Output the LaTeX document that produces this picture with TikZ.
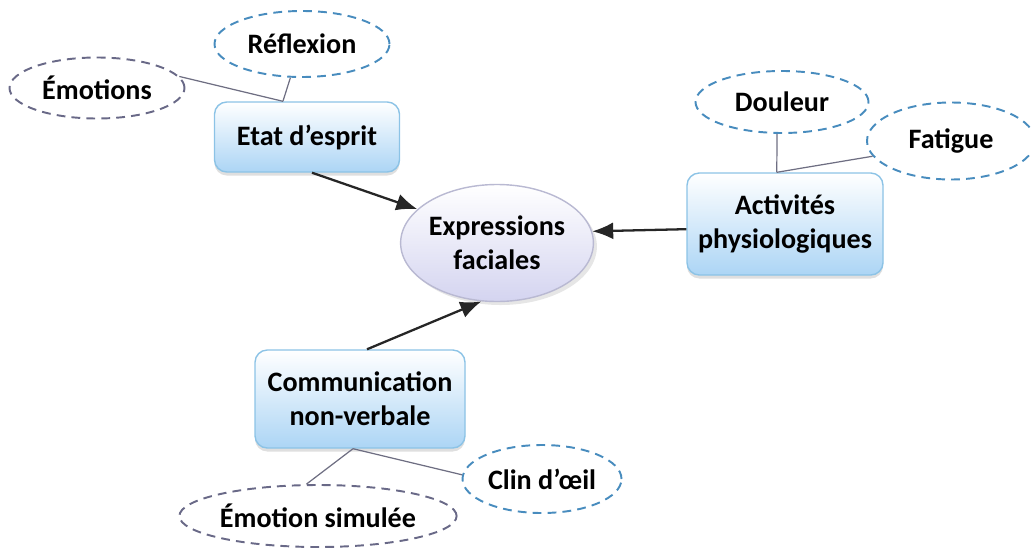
\documentclass[tikz,border=0pt]{standalone}
\usepackage{fontspec}
\setmainfont{Carlito}
\usetikzlibrary{shapes.geometric,arrows.meta,shadows}
\definecolor{bleuTrait}{RGB}{72,140,190}
\definecolor{grisTrait}{RGB}{105,105,135}
\definecolor{bleuBord}{RGB}{140,195,230}
\definecolor{bleuFond}{RGB}{172,213,245}
\definecolor{lavande}{RGB}{212,212,240}
\definecolor{lavBord}{RGB}{185,185,210}
\definecolor{lienGris}{RGB}{110,110,130}
\tikzset{
  caja/.style={rectangle, draw=bleuBord, line width=0.8pt, rounded corners=7pt,
               top color=white, bottom color=bleuFond, align=center,
               font=\fontsize{16}{19.5}\selectfont\bfseries, inner sep=2pt,
               drop shadow={shadow xshift=0pt, shadow yshift=-2pt, opacity=0.25}},
  centre/.style={ellipse, draw=lavBord, line width=0.8pt, top color=white, bottom color=lavande,
                 align=center, font=\fontsize{16}{19.5}\selectfont\bfseries, inner sep=0pt,
                 drop shadow={shadow xshift=2pt, shadow yshift=-2pt, opacity=0.2}},
  idee/.style={ellipse, draw=bleuTrait, line width=1.1pt, dash pattern=on 5pt off 3.5pt,
               font=\fontsize{16}{19.5}\selectfont\bfseries, inner sep=0pt},
  ideeg/.style={idee, draw=grisTrait},
  fleche/.style={-{Latex[length=4.2mm,width=3.4mm]}, line width=1.3pt, black!85},
  lien/.style={draw=lienGris, line width=0.7pt}
}
\begin{document}
\begin{tikzpicture}
\useasboundingbox (0,0) rectangle (20.62,-11);

% noeud central
\node[centre, minimum width=3.82cm, minimum height=2.34cm] (expr) at (9.94,-4.86) {Expressions\\faciales};

% branches
\node[caja, minimum width=3.7cm, minimum height=1.4cm] (etat) at (6.14,-2.74) {Etat d'esprit};
\node[caja, minimum width=3.92cm, minimum height=2.04cm] (activ) at (15.7,-4.48) {Activités\\physiologiques};
\node[caja, minimum width=4.2cm, minimum height=1.96cm] (comm) at (7.2,-7.98) {Communication\\non-verbale};

% feuilles
\node[idee, minimum width=3.5cm, minimum height=1.32cm] (reflexion) at (6.04,-0.88) {Réflexion};
\node[ideeg, minimum width=3.5cm, minimum height=1.22cm] (emotions) at (1.94,-1.76) {Émotions};
\node[idee, minimum width=3.46cm, minimum height=1.24cm] (douleur) at (15.64,-2.04) {Douleur};
\node[idee, minimum width=3.36cm, minimum height=1.54cm] (fatigue) at (19.02,-2.82) {Fatigue};
\node[idee, minimum width=3.18cm, minimum height=1.36cm] (clin) at (10.84,-9.58) {Clin d’œil};
\node[ideeg, minimum width=5.54cm, minimum height=1.24cm] (simul) at (6.36,-10.32) {Émotion simulée};

\draw[lien] (reflexion.251) -- (etat.124);
\draw[lien] (emotions.8) -- (etat.124);
\draw[lien] (douleur.261) -- (activ.99);
\draw[lien] (fatigue.191) -- (activ.99);
\draw[lien] (comm.262) -- (simul.110);
\draw[lien] (comm.262) -- (clin.177);

\draw[fleche] (etat.278) -- (expr.157);
\draw[fleche] (activ.183) -- (expr.7);
\draw[fleche] (comm.82) -- (expr.255);
\end{tikzpicture}
\end{document}
